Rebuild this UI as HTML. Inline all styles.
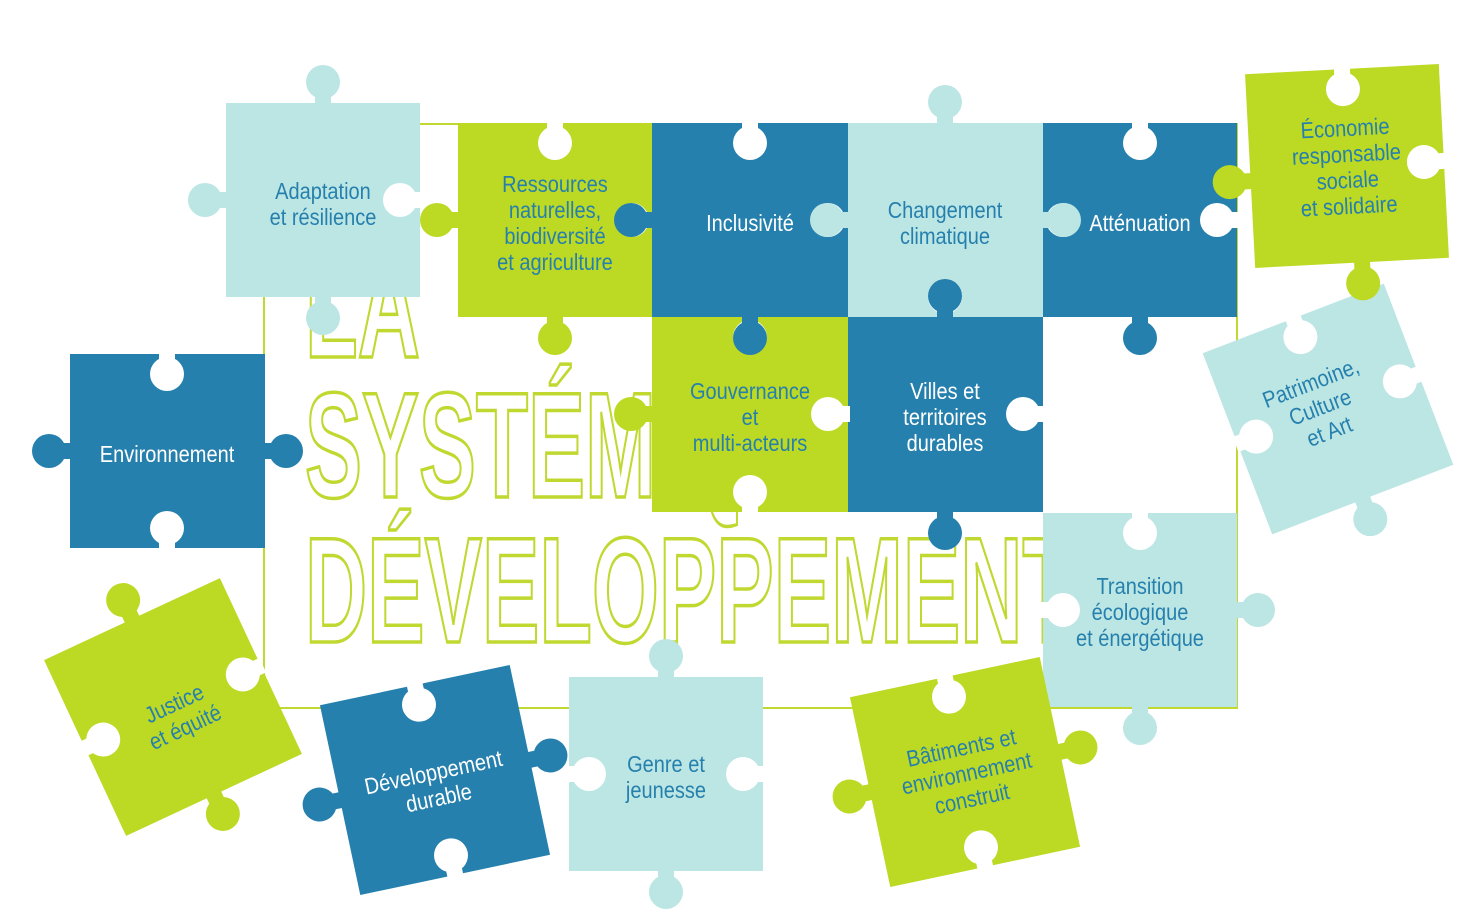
<!DOCTYPE html>
<html><head><meta charset="utf-8"><style>
html,body{margin:0;padding:0;background:#fff;}
svg{display:block}
.t text{font-family:"Liberation Sans Narrow","Liberation Sans",sans-serif;font-size:23px;text-anchor:middle;transform-box:fill-box;transform-origin:center;transform:scaleX(.87)}
.w{fill:#fff}.b{fill:#2680ad}
</style></head><body>
<svg width="1481" height="916" viewBox="0 0 1481 916" xmlns="http://www.w3.org/2000/svg">
<defs>
<g id="tab"><rect x="-8" y="-8" width="16" height="10"/><circle cy="-21" r="17"/></g>
<g id="hole"><rect x="-8" y="-2" width="16" height="10"/><circle cy="20" r="17"/></g>
</defs>
<!-- frame -->
<rect x="264" y="124" width="973" height="584" fill="none" stroke="#c0d830" stroke-width="2"/>
<!-- outline title -->
<g font-family="Liberation Sans Narrow,Liberation Sans,sans-serif" font-weight="bold" fill="#fff" stroke="#c0d830" stroke-width="3.5">
<text x="305" y="357" font-size="150" textLength="115" lengthAdjust="spacingAndGlyphs">LA</text>
<text x="305" y="497" font-size="150" textLength="560" lengthAdjust="spacingAndGlyphs">SYSTÉMIQUE</text>
<text x="305" y="642" font-size="150" textLength="770" lengthAdjust="spacingAndGlyphs">DÉVELOPPEMENT</text>
</g>

<!-- RECTS -->
<rect x="226" y="103" width="194" height="194" fill="#bce6e4"/>
<rect x="458" y="123" width="194" height="194" fill="#bcd923"/>
<rect x="652" y="123" width="196" height="194" fill="#2680ad"/>
<rect x="848" y="123" width="195" height="194" fill="#bce6e4"/>
<rect x="1043" y="123" width="194" height="194" fill="#2680ad"/>
<rect x="652" y="317" width="196" height="195" fill="#bcd923"/>
<rect x="848" y="317" width="195" height="195" fill="#2680ad"/>
<rect x="1043" y="513" width="194" height="194" fill="#bce6e4"/>
<rect x="70" y="354" width="195" height="194" fill="#2680ad"/>
<rect x="569" y="677" width="194" height="194" fill="#bce6e4"/>
<g transform="translate(1347,166) rotate(-3)"><rect x="-97" y="-97" width="194" height="194" fill="#bcd923"/></g>
<g transform="translate(1328,409) rotate(-21)"><rect x="-97" y="-97" width="194" height="194" fill="#bce6e4"/></g>
<g transform="translate(173,707) rotate(-25)"><rect x="-97" y="-97" width="194" height="194" fill="#bcd923"/></g>
<g transform="translate(435,780) rotate(-12)"><rect x="-97" y="-97" width="194" height="194" fill="#2680ad"/></g>
<g transform="translate(965,772) rotate(-12)"><rect x="-97" y="-97" width="194" height="194" fill="#bcd923"/></g>

<!-- HOLES -->
<g fill="#fff">
<use href="#hole" transform="translate(420,200) rotate(90)"/>
<use href="#hole" transform="translate(555,123)"/>
<use href="#hole" transform="translate(652,220) rotate(90)"/>
<use href="#hole" transform="translate(750,123)"/>
<use href="#hole" transform="translate(848,220) rotate(90)"/>
<use href="#hole" transform="translate(945,317) rotate(180)"/>
<use href="#hole" transform="translate(1140,123)"/>
<use href="#hole" transform="translate(1043,220) rotate(-90)"/>
<use href="#hole" transform="translate(1237,220) rotate(90)"/>
<use href="#hole" transform="translate(750,317)"/>
<use href="#hole" transform="translate(848,414) rotate(90)"/>
<use href="#hole" transform="translate(750,512) rotate(180)"/>
<use href="#hole" transform="translate(1043,414) rotate(90)"/>
<use href="#hole" transform="translate(1140,513)"/>
<use href="#hole" transform="translate(1043,610) rotate(-90)"/>
<use href="#hole" transform="translate(167,354)"/>
<use href="#hole" transform="translate(167,548) rotate(180)"/>
<use href="#hole" transform="translate(569,774) rotate(-90)"/>
<use href="#hole" transform="translate(763,774) rotate(90)"/>
<g transform="translate(1347,166) rotate(-3)"><use href="#hole" transform="translate(0,-97)"/><use href="#hole" transform="translate(97,0) rotate(90)"/></g>
<g transform="translate(1328,409) rotate(-21)"><use href="#hole" transform="translate(0,-97)"/><use href="#hole" transform="translate(97,0) rotate(90)"/><use href="#hole" transform="translate(-97,0) rotate(-90)"/></g>
<g transform="translate(173,707) rotate(-25)"><use href="#hole" transform="translate(97,0) rotate(90)"/><use href="#hole" transform="translate(-97,0) rotate(-90)"/></g>
<g transform="translate(435,780) rotate(-12)"><use href="#hole" transform="translate(0,-97)"/><use href="#hole" transform="translate(0,97) rotate(180)"/></g>
<g transform="translate(965,772) rotate(-12)"><use href="#hole" transform="translate(0,-97)"/><use href="#hole" transform="translate(0,97) rotate(180)"/></g>
</g>

<!-- TABS -->
<g fill="#bce6e4">
<use href="#tab" transform="translate(323,103)"/>
<use href="#tab" transform="translate(226,200) rotate(-90)"/>
<use href="#tab" transform="translate(323,297) rotate(180)"/>
<use href="#tab" transform="translate(945,123)"/>
<use href="#tab" transform="translate(848,220) rotate(-90)"/>
<use href="#tab" transform="translate(1043,220) rotate(90)"/>
<use href="#tab" transform="translate(1237,610) rotate(90)"/>
<use href="#tab" transform="translate(1140,707) rotate(180)"/>
<use href="#tab" transform="translate(666,677)"/>
<use href="#tab" transform="translate(666,871) rotate(180)"/>
<g transform="translate(1328,409) rotate(-21)"><use href="#tab" transform="translate(0,97) rotate(180)"/></g>
</g>
<g fill="#bcd923">
<use href="#tab" transform="translate(458,220) rotate(-90)"/>
<use href="#tab" transform="translate(555,317) rotate(180)"/>
<use href="#tab" transform="translate(652,414) rotate(-90)"/>
<g transform="translate(1347,166) rotate(-3)"><use href="#tab" transform="translate(-97,10) rotate(-90)"/><use href="#tab" transform="translate(10,97) rotate(180)"/></g>
<g transform="translate(173,707) rotate(-25)"><use href="#tab" transform="translate(0,-97)"/><use href="#tab" transform="translate(0,97) rotate(180)"/></g>
<g transform="translate(965,772) rotate(-12)"><use href="#tab" transform="translate(-97,0) rotate(-90)"/><use href="#tab" transform="translate(97,0) rotate(90)"/></g>
</g>
<g fill="#2680ad">
<use href="#tab" transform="translate(652,220) rotate(-90)"/>
<use href="#tab" transform="translate(750,317) rotate(180)"/>
<use href="#tab" transform="translate(1140,317) rotate(180)"/>
<use href="#tab" transform="translate(945,317)"/>
<use href="#tab" transform="translate(945,512) rotate(180)"/>
<use href="#tab" transform="translate(70,451) rotate(-90)"/>
<use href="#tab" transform="translate(265,451) rotate(90)"/>
<g transform="translate(435,780) rotate(-12)"><use href="#tab" transform="translate(-97,0) rotate(-90)"/><use href="#tab" transform="translate(97,0) rotate(90)"/></g>
</g>

<!-- TEXT -->
<g class="t">
<text class="b" x="323" y="199">Adaptation</text><text class="b" x="323" y="225">et résilience</text>
<text class="b" x="555" y="192">Ressources</text><text class="b" x="555" y="218">naturelles,</text><text class="b" x="555" y="244">biodiversité</text><text class="b" x="555" y="270">et agriculture</text>
<text class="w" x="750" y="231">Inclusivité</text>
<text class="b" x="945" y="218">Changement</text><text class="b" x="945" y="244">climatique</text>
<text class="w" x="1140" y="231">Atténuation</text>
<text class="b" x="750" y="399">Gouvernance</text><text class="b" x="750" y="425">et</text><text class="b" x="750" y="451">multi-acteurs</text>
<text class="w" x="945" y="399">Villes et</text><text class="w" x="945" y="425">territoires</text><text class="w" x="945" y="451">durables</text>
<text class="b" x="1140" y="594">Transition</text><text class="b" x="1140" y="620">écologique</text><text class="b" x="1140" y="646">et énergétique</text>
<text class="w" x="167" y="462">Environnement</text>
<text class="b" x="666" y="772">Genre et</text><text class="b" x="666" y="798">jeunesse</text>
</g>
<g class="t" transform="translate(1347,166) rotate(-3)"><text class="b" y="-30">Économie</text><text class="b" y="-4">responsable</text><text class="b" y="22">sociale</text><text class="b" y="48">et solidaire</text></g>
<g class="t" transform="translate(1320,407) rotate(-21)"><text class="b" y="-18">Patrimoine,</text><text class="b" y="8">Culture</text><text class="b" y="34">et Art</text></g>
<g class="t" transform="translate(180,716) rotate(-25)"><text class="b" y="-6">Justice</text><text class="b" y="20">et équité</text></g>
<g class="t" transform="translate(435,780) rotate(-12)"><text class="w" y="0">Développement</text><text class="w" y="26">durable</text></g>
<g class="t" transform="translate(967,775) rotate(-12)"><text class="b" y="-20">Bâtiments et</text><text class="b" y="6">environnement</text><text class="b" y="32">construit</text></g>
</svg>
</body></html>
